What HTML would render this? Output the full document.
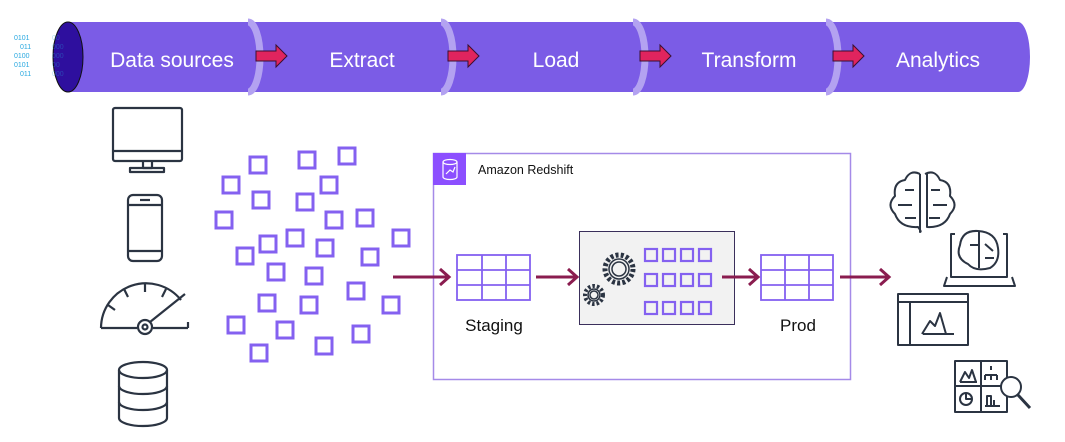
<!DOCTYPE html>
<html><head><meta charset="utf-8"><style>
html,body{margin:0;padding:0;background:#fff;}
svg{display:block;}
text{font-family:"Liberation Sans",sans-serif;}
</style></head><body>
<svg width="1065" height="442" viewBox="0 0 1065 442" xmlns="http://www.w3.org/2000/svg">
<!-- pipeline -->
<path d="M68 22 H1018 A12 35 0 0 1 1018 92 H68 Z" fill="#7b5ce6"/>
<g fill="none" stroke="#b3a2f1" stroke-width="7">
<path d="M248 22 A12 35 0 0 1 248 92"/>
<path d="M441 22 A12 35 0 0 1 441 92"/>
<path d="M633 22 A12 35 0 0 1 633 92"/>
<path d="M826 22 A12 35 0 0 1 826 92"/>
</g>
<ellipse cx="68" cy="57" rx="15" ry="35" fill="#2e0f9e" stroke="#111" stroke-width="1"/>
<g font-family="Liberation Mono,monospace" font-size="7" fill="#29a8e0">
<text x="14" y="40">0101</text><text x="20" y="49">011</text><text x="14" y="58">0100</text><text x="14" y="67">0101</text><text x="20" y="76">011</text>
</g>
<g fill="#29a8e0" opacity="0.35" font-family="Liberation Mono,monospace" font-size="7">
<text x="52" y="40">00</text><text x="52" y="49">000</text><text x="52" y="58">000</text><text x="52" y="67">00</text><text x="52" y="76">000</text>
</g>
<g fill="#e0245e" stroke="#3a1030" stroke-width="1">
<path d="M256 51 H276 V45 L287 56 L276 67 V61 H256 Z"/>
<path d="M448 51 H468 V45 L479 56 L468 67 V61 H448 Z"/>
<path d="M640 51 H660 V45 L671 56 L660 67 V61 H640 Z"/>
<path d="M833 51 H853 V45 L864 56 L853 67 V61 H833 Z"/>
</g>
<g fill="#fff" font-size="21" text-anchor="middle">
<text x="172" y="67">Data sources</text>
<text x="362" y="67">Extract</text>
<text x="556" y="67">Load</text>
<text x="749" y="67">Transform</text>
<text x="938" y="67">Analytics</text>
</g>

<!-- left icons -->
<g fill="none" stroke="#2b3442" stroke-width="2.2" stroke-linejoin="round">
<rect x="113" y="108" width="69" height="53" rx="2"/>
<line x1="113" y1="151" x2="182" y2="151"/>
<path d="M143 161 V168 H152 V161"/>
<rect x="130" y="168" width="34" height="4"/>
<rect x="128" y="195" width="34" height="66" rx="5"/>
<line x1="128" y1="205" x2="162" y2="205"/>
<line x1="128" y1="251" x2="162" y2="251"/>
<line x1="140" y1="200" x2="150" y2="200"/>
<path d="M101 328 A45 45 0 0 1 181 300"/>
<line x1="101" y1="328" x2="137" y2="328"/>
<line x1="153" y1="328" x2="188" y2="328"/><line x1="188" y1="322" x2="188" y2="328"/>
<circle cx="145" cy="327" r="7"/><circle cx="145" cy="327" r="2.5"/>
<line x1="150" y1="322" x2="185" y2="294"/>
<line x1="145" y1="283" x2="145" y2="292"/>
<line x1="124" y1="289" x2="128" y2="297"/>
<line x1="108" y1="305" x2="115" y2="310"/>
<line x1="166" y1="289" x2="162" y2="297"/>
<ellipse cx="143" cy="370" rx="24" ry="8"/>
<path d="M119 370 V418 A24 8 0 0 0 167 418 V370"/>
<path d="M119 386 A24 8 0 0 0 167 386"/>
<path d="M119 402 A24 8 0 0 0 167 402"/>
</g>

<!-- scattered squares -->
<g fill="none" stroke="#8461f0" stroke-width="3">
<rect x="250" y="157" width="16" height="16"/><rect x="299" y="152" width="16" height="16"/><rect x="339" y="148" width="16" height="16"/>
<rect x="223" y="177" width="16" height="16"/><rect x="321" y="177" width="16" height="16"/><rect x="253" y="192" width="16" height="16"/>
<rect x="297" y="194" width="16" height="16"/><rect x="216" y="212" width="16" height="16"/><rect x="326" y="212" width="16" height="16"/>
<rect x="357" y="210" width="16" height="16"/><rect x="393" y="230" width="16" height="16"/><rect x="287" y="230" width="16" height="16"/>
<rect x="260" y="236" width="16" height="16"/><rect x="317" y="240" width="16" height="16"/><rect x="362" y="249" width="16" height="16"/>
<rect x="237" y="248" width="16" height="16"/><rect x="268" y="264" width="16" height="16"/><rect x="306" y="268" width="16" height="16"/>
<rect x="348" y="283" width="16" height="16"/><rect x="259" y="295" width="16" height="16"/><rect x="301" y="297" width="16" height="16"/>
<rect x="383" y="297" width="16" height="16"/><rect x="228" y="317" width="16" height="16"/><rect x="277" y="322" width="16" height="16"/>
<rect x="353" y="326" width="16" height="16"/><rect x="316" y="338" width="16" height="16"/><rect x="251" y="345" width="16" height="16"/>
</g>

<!-- redshift box -->
<rect x="433.5" y="153.5" width="417" height="226" fill="none" stroke="#a58ae8" stroke-width="1.5"/>
<rect x="433" y="153" width="33" height="32" fill="#8c4fff"/>
<g fill="none" stroke="#fff" stroke-width="1.2">
<path d="M443 162 V177 A7 2.5 0 0 0 457 177 V162"/><ellipse cx="450" cy="162" rx="7" ry="2.5"/>
<path d="M446 174 L450 170 L453 172 L455 167"/>
</g>
<text x="478" y="174" font-size="12.5" fill="#111">Amazon Redshift</text>

<g fill="none" stroke="#8461f0" stroke-width="1.8">
<rect x="457" y="255" width="73" height="45"/>
<line x1="457" y1="270" x2="530" y2="270"/><line x1="457" y1="285" x2="530" y2="285"/>
<line x1="482" y1="255" x2="482" y2="300"/><line x1="506" y1="255" x2="506" y2="300"/>
<rect x="761" y="255" width="72" height="45"/>
<line x1="761" y1="270" x2="833" y2="270"/><line x1="761" y1="285" x2="833" y2="285"/>
<line x1="785" y1="255" x2="785" y2="300"/><line x1="809" y1="255" x2="809" y2="300"/>
</g>
<text x="494" y="331" font-size="17" text-anchor="middle" fill="#111">Staging</text>
<text x="798" y="331" font-size="17" text-anchor="middle" fill="#111">Prod</text>

<rect x="579.5" y="231.5" width="155" height="93" fill="#f2f2f2" stroke="#3a2f5b" stroke-width="1"/>
<g fill="none" stroke="#2b3442" stroke-width="1.5">
<circle cx="619" cy="269" r="14" stroke-dasharray="3 2.2" stroke-width="5"/>
<circle cx="619" cy="269" r="10" fill="#f2f2f2"/>
<circle cx="619" cy="269" r="7"/>
<circle cx="594" cy="295" r="9" stroke-dasharray="2.5 2" stroke-width="4"/>
<circle cx="594" cy="295" r="6" fill="#f2f2f2"/>
<circle cx="594" cy="295" r="4"/>
</g>
<g fill="none" stroke="#8461f0" stroke-width="2.2">
<rect x="645" y="249" width="12" height="12"/><rect x="663" y="249" width="12" height="12"/><rect x="681" y="249" width="12" height="12"/><rect x="699" y="249" width="12" height="12"/>
<rect x="645" y="274" width="12" height="12"/><rect x="663" y="274" width="12" height="12"/><rect x="681" y="274" width="12" height="12"/><rect x="699" y="274" width="12" height="12"/>
<rect x="645" y="302" width="12" height="12"/><rect x="663" y="302" width="12" height="12"/><rect x="681" y="302" width="12" height="12"/><rect x="699" y="302" width="12" height="12"/>
</g>

<!-- arrows -->
<g fill="none" stroke="#8a1c4f" stroke-width="3">
<line x1="393" y1="277" x2="448" y2="277"/><path d="M440 269 L449 277 L440 285"/>
<line x1="536" y1="277" x2="576" y2="277"/><path d="M568 269 L577 277 L568 285"/>
<line x1="722" y1="277" x2="757" y2="277"/><path d="M749 269 L758 277 L749 285"/>
<line x1="840" y1="277" x2="888" y2="277"/><path d="M880 269 L889 277 L880 285"/>
</g>

<!-- right icons -->
<g fill="none" stroke="#2b3442" stroke-width="2" stroke-linejoin="round">
<path d="M920 174 Q910 169 905 180 Q893 182 895 196 Q886 205 895 214 Q900 228 918 227 Q922 232 920 232 V174"/>
<path d="M925 174 Q935 169 940 180 Q952 182 950 196 Q959 205 950 214 Q945 228 927 227 V174"/>
<path d="M905 190 H914 M898 205 H912 M905 218 H916 M940 190 H931 M947 205 H933 M940 218 H929"/>
<path d="M955 234 H951 V277 H1007 V234 H1003"/>
<path d="M947 277 L944 286 H1015 L1012 277"/>
<path d="M978 231 Q962 230 960 245 Q955 258 968 264 Q975 272 990 268 Q1000 262 998 248 Q996 232 978 231 Z"/>
<path d="M979 232 V268 M970 245 H979 M985 244 L993 251 M985 258 L994 258"/>
<rect x="898" y="294" width="70" height="51"/>
<line x1="898" y1="302" x2="968" y2="302"/><line x1="910" y1="302" x2="910" y2="345"/>
<path d="M922 334 L930 321 L935 326 L940 313 L946 334 M923 334 H954"/>
<rect x="955" y="361" width="52" height="51"/>
<line x1="981" y1="361" x2="981" y2="412"/><line x1="955" y1="386" x2="1005" y2="386"/>
<path d="M960 382 L965 372 L969 378 L972 370 L976 382 M960 382 H977"/>
<circle cx="966" cy="399" r="6"/><path d="M966 393 V399 H972"/>
<path d="M991 370 V366 M985 375 H997 M985 375 V380 M991 375 V380 M997 375 V380"/>
<path d="M987 406 V396 H991 V406 M994 406 V400 M985 406 H1000"/>
<circle cx="1011" cy="387" r="10" fill="#fff"/>
<line x1="1018" y1="395" x2="1030" y2="408" stroke-width="3"/>
</g>
</svg>
</body></html>
